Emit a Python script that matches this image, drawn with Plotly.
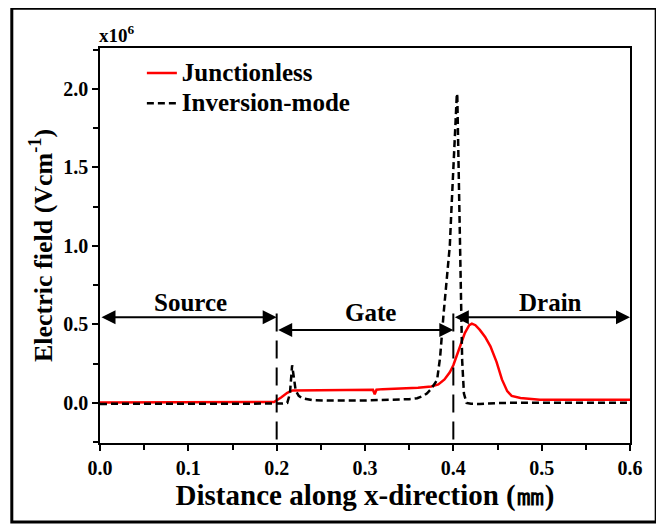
import plotly.graph_objects as go

# ---------------- data (x in mm-scale units, E-field in 1e6 V/cm) ----------------
jl_x = [0.000, 0.100, 0.190, 0.197, 0.205, 0.212, 0.218, 0.250, 0.280, 0.305, 0.309,
        0.311, 0.313, 0.320, 0.340, 0.360, 0.375, 0.383, 0.390, 0.396, 0.400, 0.404,
        0.408, 0.413, 0.418, 0.421, 0.425, 0.430, 0.436, 0.442, 0.449, 0.455, 0.461,
        0.466, 0.476, 0.487, 0.498, 0.550, 0.600]
jl_y = [0.003, 0.003, 0.003, 0.006, 0.035, 0.065, 0.080, 0.082, 0.084, 0.086, 0.084,
        0.055, 0.084, 0.088, 0.092, 0.097, 0.105, 0.118, 0.150, 0.195, 0.240, 0.300,
        0.370, 0.445, 0.495, 0.505, 0.495, 0.465, 0.420, 0.360, 0.260, 0.150, 0.075,
        0.045, 0.032, 0.028, 0.020, 0.020, 0.020]

im_x = [0.000, 0.100, 0.195, 0.201, 0.206, 0.212, 0.215, 0.2175, 0.2195, 0.2215, 0.225,
        0.229, 0.240, 0.260, 0.300, 0.336, 0.350, 0.359, 0.366, 0.370, 0.375, 0.3816,
        0.385, 0.389, 0.393, 0.396, 0.398, 0.400, 0.402, 0.4035, 0.404, 0.4045, 0.405,
        0.406, 0.408, 0.410, 0.412, 0.415, 0.420, 0.430, 0.440, 0.450, 0.500, 0.600]
im_y = [-0.006, -0.006, -0.006, -0.006, -0.004, 0.000, 0.060, 0.240, 0.150, 0.080, 0.045,
        0.030, 0.018, 0.015, 0.016, 0.019, 0.024, 0.030, 0.045, 0.060, 0.090, 0.146,
        0.290, 0.570, 0.800, 1.000, 1.250, 1.500, 1.800, 1.950, 1.970, 1.950, 1.800,
        1.440, 0.910, 0.270, 0.060, 0.000, -0.005, -0.007, -0.004, 0.000, 0.002, 0.002]

series_names = ["Junctionless", "Inversion-mode"]

region_bounds = [0.0, 0.2, 0.4, 0.6]
region_labels = ["Source", "Gate", "Drain"]

x_ticks = [0.0, 0.1, 0.2, 0.3, 0.4, 0.5, 0.6]
y_ticks = [0.0, 0.5, 1.0, 1.5, 2.0]

# ---------------- styling ----------------
FONT = "Liberation Serif, Times New Roman, serif"
arrow_levels = [0.545, 0.465, 0.545]
label_levels = [0.64, 0.575, 0.64]
label_x = [0.103, 0.306, 0.51]


def legend_label(name):
    # larger glyphs than the legend's row pitch, to keep rows as tight as the reference
    return f'<span style="font-size:25px">{name}</span>'


fig = go.Figure()
fig.add_trace(go.Scatter(x=jl_x, y=jl_y, mode="lines", name=legend_label(series_names[0]),
                         line=dict(color="#ff0000", width=2.5)))
fig.add_trace(go.Scatter(x=im_x, y=im_y, mode="lines", name=legend_label(series_names[1]),
                         line=dict(color="black", width=2.5, dash="7px,4px")))

# region boundary dashed lines
for b in region_bounds[1:3]:
    fig.add_shape(type="line", xref="x", yref="y", x0=b, x1=b, y0=0.57, y1=-0.255,
                  line=dict(color="black", width=2, dash="18px,9px"))

# region arrows and labels
for i, lab in enumerate(region_labels):
    fig.add_annotation(x=region_bounds[i + 1], y=arrow_levels[i],
                       ax=region_bounds[i], ay=arrow_levels[i],
                       xref="x", yref="y", axref="x", ayref="y",
                       text="", showarrow=True, arrowside="end+start",
                       arrowhead=2, arrowsize=1.4, arrowwidth=2, arrowcolor="black",
                       standoff=0, startstandoff=0)
    fig.add_annotation(x=label_x[i], y=label_levels[i], xref="x", yref="y",
                       text=lab, showarrow=False,
                       font=dict(family=FONT, size=25, color="black", weight="bold"))

# multiplier label
fig.add_annotation(x=-0.006, y=1.0, xref="paper", yref="paper", xanchor="left",
                   yanchor="bottom", text="x10<sup>6</sup>", showarrow=False,
                   font=dict(family=FONT, size=19, color="black", weight="bold"))

# outer frame
fig.add_shape(type="rect", xref="paper", yref="paper", x0=-0.1664, x1=1.0494,
              y0=-0.2, y1=1.1005, line=dict(color="black", width=3))

axis_common = dict(showline=True, linecolor="black", linewidth=1.5, mirror=True,
                   ticks="outside", ticklen=6, tickwidth=1.5, tickcolor="black",
                   showgrid=False, zeroline=False,
                   tickfont=dict(family=FONT, size=20, color="black", weight="bold"))

fig.update_xaxes(range=[0, 0.6], tickvals=x_ticks,
                 ticktext=[f"{v:.1f}" for v in x_ticks],
                 minor=dict(dtick=0.05, tick0=0, ticks="outside", ticklen=5,
                            tickwidth=1.5, tickcolor="black"),
                 title=dict(text="Distance along x-direction (㎜)", standoff=6,
                            font=dict(family=FONT, size=29, color="black", weight="bold")),
                 **axis_common)
fig.update_yaxes(range=[-0.255, 2.26], tickvals=y_ticks,
                 ticktext=[f"{v:.1f}" for v in y_ticks],
                 minor=dict(dtick=0.25, tick0=0, ticks="outside", ticklen=5,
                            tickwidth=1.5, tickcolor="black"),
                 title=dict(text="Electric field (Vcm<sup>-1</sup>)", standoff=3,
                            font=dict(family=FONT, size=26, color="black", weight="bold")),
                 **axis_common)

# the page body adds an 8px offset, so the figure is 8px smaller than the window
fig.update_layout(
    width=656, height=521,
    margin=dict(l=92, r=34, t=40, b=86),
    paper_bgcolor="white", plot_bgcolor="white",
    showlegend=True,
    legend=dict(x=0.079, y=0.988, xanchor="left", yanchor="top",
                bgcolor="rgba(0,0,0,0)", borderwidth=0, tracegroupgap=0,
                font=dict(family=FONT, size=21, color="black", weight="bold")),
)

fig.write_html("out.html")
